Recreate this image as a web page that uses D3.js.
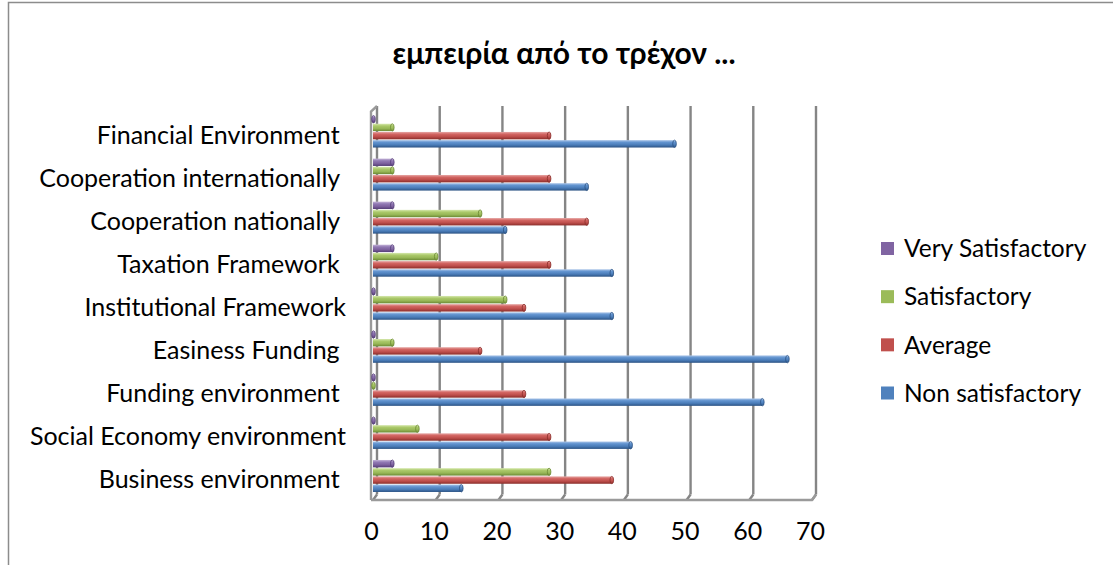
<!DOCTYPE html>
<html>
<head>
<meta charset="utf-8">
<script src="https://cdn.jsdelivr.net/npm/d3@7"></script>
<style>
  body { margin: 0; background: #fff; }
  svg { display: block; }
  text { font-family: Lato, "Noto Sans", sans-serif; fill: #000; white-space: pre; }
</style>
</head>
<body>
<svg id="chart" width="1113" height="565"></svg>
<script>
// ---- data (bottom category first, as in the source chart) ----
const categories = [
  "Business environment ",
  "Social Economy environment",
  "Funding environment ",
  "Easiness Funding ",
  "Institutional Framework",
  "Taxation Framework ",
  "Cooperation nationally ",
  "Cooperation internationally ",
  "Financial Environment "
];
const nonSatisfactory  = [14, 41, 62, 66, 38, 38, 21, 34, 48];
const average          = [38, 28, 24, 17, 24, 28, 34, 28, 28];
const satisfactory     = [28,  7,  0,  3, 21, 10, 17,  3,  3];
const verySatisfactory = [ 3,  0,  0,  0,  0,  3,  3,  3,  0];
const seriesNames = ["Very Satisfactory", "Satisfactory", "Average", "Non satisfactory"];
const xTicks = [0, 10, 20, 30, 40, 50, 60, 70];
const title = "εμπειρία από το τρέχον ...";

const seriesValues = [verySatisfactory, satisfactory, average, nonSatisfactory];
const palette = {
  "Very Satisfactory": ["#c4b4d8", "#9179b4", "#7d619e", "#553e78"],
  "Satisfactory":      ["#d6e8ae", "#abc96a", "#97b757", "#6b8934"],
  "Average":           ["#e6a7a5", "#d26562", "#bd4d4a", "#8a2e2b"],
  "Non satisfactory":  ["#a9c4e8", "#6193cf", "#4a7cb8", "#2b5283"]
};
const legendColor = {
  "Very Satisfactory": "#8064A2",
  "Satisfactory": "#9BBB59",
  "Average": "#C0504D",
  "Non satisfactory": "#4F81BD"
};

const svg = d3.select("#chart");

// chart border
svg.append("rect")
  .attr("x", 8.5).attr("y", 2.5).attr("width", 1300).attr("height", 800)
  .attr("fill", "none").attr("stroke", "#8c8c8c").attr("stroke-width", 1.5);

// title
svg.append("text")
  .attr("x", 564).attr("y", 64)
  .attr("text-anchor", "middle")
  .style("font-weight", "bold")
  .style("font-size", "30px")
  .text(title);

// scales
const x = d3.scaleLinear().domain([0, 70]).range([373, 812]);
const depthX = 4, depthY = 5.5;
const y = d3.scaleBand()
  .domain(categories.slice().reverse())
  .range([110, 497.5])
  .paddingInner(0.257)
  .paddingOuter(0.1285);
const ySub = d3.scaleBand()
  .domain(seriesNames)
  .range([0, y.bandwidth()])
  .paddingInner(0.1);

// gradients
const defs = svg.append("defs");
seriesNames.forEach((s, i) => {
  const g = defs.append("linearGradient")
    .attr("id", "grad" + i)
    .attr("x1", 0).attr("y1", 0).attr("x2", 0).attr("y2", 1);
  const c = palette[s];
  [[0, c[0]], [0.3, c[1]], [0.65, c[2]], [1, c[3]]].forEach(([o, col]) =>
    g.append("stop").attr("offset", o).attr("stop-color", col));
});

// 3D walls / gridlines
const wallTop = 110 - depthY + 1.5, floorFront = 500, floorBack = floorFront - depthY;
const grid = svg.append("g").attr("stroke", "#858585").attr("stroke-width", 2.4).attr("fill", "none");
xTicks.forEach(v => {
  grid.append("line")
    .attr("x1", x(v) + depthX).attr("x2", x(v) + depthX)
    .attr("y1", wallTop).attr("y2", floorBack);
  grid.append("line")
    .attr("x1", x(v) + depthX).attr("y1", floorBack)
    .attr("x2", x(v)).attr("y2", floorFront);
});
// left wall
grid.append("path")
  .attr("d", `M${x(0) - 2},${floorFront} L${x(0) - 2},${wallTop + depthY} L${x(0) + depthX},${wallTop}`)
  .attr("stroke", "#9a9a9a");
// floor front edge
grid.append("path")
  .attr("d", `M${x(0) - 2},${floorFront} L${x(70)},${floorFront} L${x(70) + depthX},${floorBack}`)
  .attr("stroke", "#9a9a9a");

// bars
const bars = svg.append("g");
seriesNames.forEach((s, si) => {
  const vals = seriesValues[si];
  const g = bars.append("g");
  const h = ySub.bandwidth();
  const rows = categories.map((c, ci) => ({ c, v: vals[ci] }));
  g.selectAll("rect").data(rows).join("rect")
    .attr("x", x(0))
    .attr("y", d => y(d.c) + ySub(s))
    .attr("width", d => Math.max(0, x(d.v) - x(0)))
    .attr("height", h)
    .attr("fill", `url(#grad${si})`);
  g.selectAll("ellipse").data(rows).join("ellipse")
    .attr("cx", d => x(d.v) + 0.5)
    .attr("cy", d => y(d.c) + ySub(s) + h / 2)
    .attr("rx", 1.8)
    .attr("ry", h / 2)
    .attr("fill", `url(#grad${si})`)
    .attr("stroke", palette[s][3])
    .attr("stroke-width", 0.8);
});

// category axis labels
const yAxis = d3.axisLeft(y).tickSize(0).tickPadding(0);
const ya = svg.append("g").attr("transform", "translate(346,0)").call(yAxis);
ya.select(".domain").remove();
ya.selectAll("text")
  .attr("dy", null)
  .attr("y", 12)
  .style("font-size", "25px")
  .style("font-family", "Lato, 'Noto Sans', sans-serif")
  .attr("fill", "#000");

// value axis labels
const xAxis = d3.axisBottom(x).tickValues(xTicks).tickSize(0).tickPadding(0).tickFormat(d3.format("d"));
const xa = svg.append("g").attr("transform", "translate(-2,540)").call(xAxis);
xa.select(".domain").remove();
xa.selectAll("text")
  .attr("dy", null)
  .attr("y", 0)
  .style("font-size", "25px")
  .style("font-family", "Lato, 'Noto Sans', sans-serif")
  .attr("fill", "#000");

// legend
const legendY = d3.scalePoint().domain(seriesNames).range([248.5, 393]);
const lg = svg.append("g");
seriesNames.forEach(s => {
  lg.append("rect")
    .attr("x", 881).attr("y", legendY(s) - 6.5)
    .attr("width", 13).attr("height", 13)
    .attr("fill", legendColor[s]);
  lg.append("text")
    .attr("x", 904).attr("y", legendY(s)).attr("dy", "0.36em")
    .style("font-size", "24.5px")
    .text(s);
});
</script>
</body>
</html>
